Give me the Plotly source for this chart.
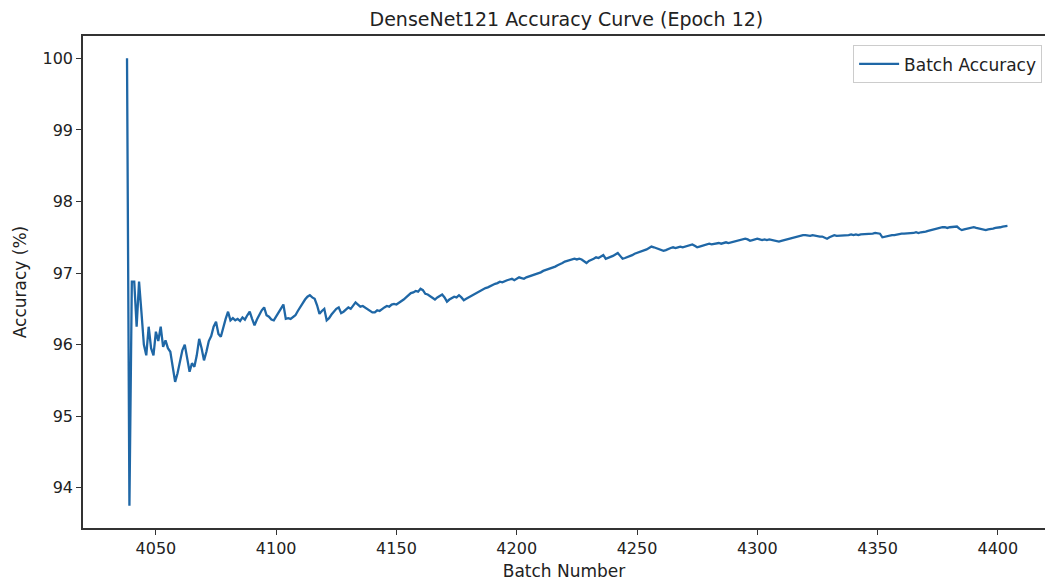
import plotly.graph_objects as go

# Cumulative batch accuracy (%) for epoch 12, one value per batch starting at batch 4038
first_batch = 4038
accuracy = [
    100.0, 93.75, 96.88, 96.88, 96.25, 96.88, 96.45, 96.0, 95.85, 96.25,      # 4038-4047
    95.95, 95.85, 96.18, 96.05, 96.25, 95.97, 96.06, 95.95, 95.9, 95.7,       # 4048-4057
    95.48, 95.6, 95.78, 95.92, 96.0, 95.8, 95.62, 95.74, 95.69, 95.85,        # 4058-4067
    96.08, 95.95, 95.78, 95.9, 96.05, 96.12, 96.25, 96.32, 96.15, 96.11,      # 4068-4077
    96.25, 96.36, 96.46, 96.34, 96.37, 96.34, 96.36, 96.33, 96.38, 96.35,     # 4078-4087
    96.41, 96.46, 96.36, 96.27, 96.35, 96.42, 96.48, 96.52, 96.41, 96.39,     # 4088-4097
    96.35, 96.34, 96.40, 96.46, 96.51, 96.56, 96.36, 96.37, 96.36, 96.38,     # 4098-4107
    96.41, 96.47, 96.53, 96.58, 96.63, 96.67, 96.69, 96.66, 96.64, 96.55,     # 4108-4117
    96.43, 96.47, 96.5, 96.34, 96.37, 96.42, 96.46, 96.5, 96.52, 96.44,       # 4118-4127
    96.46, 96.49, 96.52, 96.5, 96.55, 96.59, 96.56, 96.53, 96.54, 96.52,      # 4128-4137
    96.5, 96.47, 96.45, 96.45, 96.48, 96.47, 96.5, 96.52, 96.54, 96.53,       # 4138-4147
    96.56, 96.57, 96.56, 96.58, 96.6, 96.63, 96.66, 96.69, 96.72, 96.73,      # 4148-4157
    96.75, 96.74, 96.78, 96.76, 96.71, 96.7, 96.68, 96.66, 96.63, 96.66,      # 4158-4167
    96.68, 96.7, 96.66, 96.6, 96.63, 96.65, 96.67, 96.66, 96.69, 96.66,       # 4168-4177
    96.62, 96.64, 96.66, 96.68, 96.69, 96.71, 96.73, 96.75, 96.77, 96.79,     # 4178-4187
    96.8, 96.82, 96.84, 96.85, 96.86, 96.88, 96.87, 96.89, 96.9, 96.91,       # 4188-4197
    96.92, 96.9, 96.92, 96.94, 96.93, 96.92, 96.94, 96.95, 96.96, 96.97,      # 4198-4207
    96.99, 97.0, 97.01, 97.03, 97.04, 97.05, 97.06, 97.08, 97.09, 97.11,      # 4208-4217
    97.12, 97.14, 97.16, 97.17, 97.19, 97.2, 97.2, 97.19, 97.2, 97.19,        # 4218-4227
    97.16, 97.14, 97.17, 97.18, 97.2, 97.22, 97.21, 97.23, 97.25, 97.2,       # 4228-4237
    97.21, 97.23, 97.24, 97.26, 97.28, 97.24, 97.2, 97.21, 97.22, 97.24,      # 4238-4247
    97.25, 97.27, 97.28, 97.29, 97.31, 97.32, 97.33, 97.35, 97.37, 97.36,     # 4248-4257
    97.35, 97.34, 97.32, 97.31, 97.32, 97.34, 97.35, 97.36, 97.35, 97.36,     # 4258-4267
    97.37, 97.36, 97.37, 97.38, 97.39, 97.4, 97.38, 97.36, 97.37, 97.38,      # 4268-4277
    97.4, 97.41, 97.41, 97.4, 97.41, 97.42, 97.42, 97.41, 97.42, 97.43,       # 4278-4287
    97.42, 97.43, 97.43, 97.44, 97.45, 97.46, 97.47, 97.48, 97.47, 97.45,     # 4288-4297
    97.46, 97.47, 97.48, 97.47, 97.46, 97.47, 97.46, 97.47, 97.46, 97.45,     # 4298-4307
    97.44, 97.44, 97.45, 97.46, 97.47, 97.48, 97.49, 97.5, 97.51, 97.52,      # 4308-4317
    97.53, 97.53, 97.53, 97.52, 97.52, 97.53, 97.52, 97.52, 97.51, 97.51,     # 4318-4327
    97.5, 97.48, 97.5, 97.52, 97.53, 97.52, 97.52, 97.53, 97.52, 97.53,       # 4328-4337
    97.53, 97.54, 97.53, 97.54, 97.53, 97.54, 97.54, 97.54, 97.55, 97.55,     # 4338-4347
    97.55, 97.56, 97.56, 97.55, 97.5, 97.51, 97.52, 97.52, 97.53, 97.53,      # 4348-4357
    97.54, 97.54, 97.55, 97.55, 97.55, 97.56, 97.56, 97.56, 97.57, 97.56,     # 4358-4367
    97.57, 97.57, 97.58, 97.59, 97.6, 97.61, 97.62, 97.63, 97.63, 97.64,      # 4368-4377
    97.64, 97.63, 97.64, 97.64, 97.65, 97.65, 97.62, 97.6, 97.61, 97.62,      # 4378-4387
    97.63, 97.64, 97.64, 97.63, 97.62, 97.61, 97.6, 97.6, 97.61, 97.61,       # 4388-4397
    97.62, 97.63, 97.63, 97.64, 97.65, 97.66, 97.66,                          # 4398-4404
]
batches = list(range(first_batch, first_batch + len(accuracy)))

x_ticks = [4050, 4100, 4150, 4200, 4250, 4300, 4350, 4400]
y_ticks = [94, 95, 96, 97, 98, 99, 100]

title_text = "DenseNet121 Accuracy Curve (Epoch 12)"
x_title = "Batch Number"
y_title = "Accuracy (%)"
series_name = "Batch Accuracy"

FONT = "DejaVu Sans"
TXT = "#222222"

fig = go.Figure()
fig.add_trace(go.Scatter(
    x=batches, y=accuracy, mode="lines", name=series_name,
    line=dict(color="#1f67a6", width=2.3),
))

fig.update_layout(
    width=1045, height=587,
    margin=dict(l=83, r=0, t=36, b=59),
    paper_bgcolor="white", plot_bgcolor="white",
    font=dict(family=FONT, size=16, color=TXT),
    showlegend=True,
    title=dict(text=title_text, x=0.542, xanchor="center", y=0.978, yanchor="top",
               font=dict(family=FONT, size=19, color=TXT)),
    legend=dict(x=0.997, xanchor="right", y=0.981, yanchor="top",
                bgcolor="rgba(255,255,255,0.9)", bordercolor="#cccccc", borderwidth=1,
                font=dict(family=FONT, size=17, color=TXT),
                itemwidth=40, tracegroupgap=0),
)

fig.update_xaxes(
    range=[4019.7, 4419.6], tickmode="array", tickvals=x_ticks,
    ticks="outside", ticklen=5, tickwidth=1.3, tickcolor="#333333",
    showline=True, linecolor="#333333", linewidth=1.5, mirror=True,
    showgrid=False, zeroline=False,
    tickfont=dict(family=FONT, size=16, color=TXT),
    title=dict(text=x_title, font=dict(family=FONT, size=17, color=TXT), standoff=8),
)
fig.update_yaxes(
    range=[93.4375, 100.3125], tickmode="array", tickvals=y_ticks,
    ticks="outside", ticklen=5, tickwidth=1.3, tickcolor="#333333",
    showline=True, linecolor="#333333", linewidth=1.5, mirror=False,
    showgrid=False, zeroline=False,
    tickfont=dict(family=FONT, size=16, color=TXT),
    title=dict(text=y_title, font=dict(family=FONT, size=17, color=TXT), standoff=12),
)

fig.write_html("out.html")
